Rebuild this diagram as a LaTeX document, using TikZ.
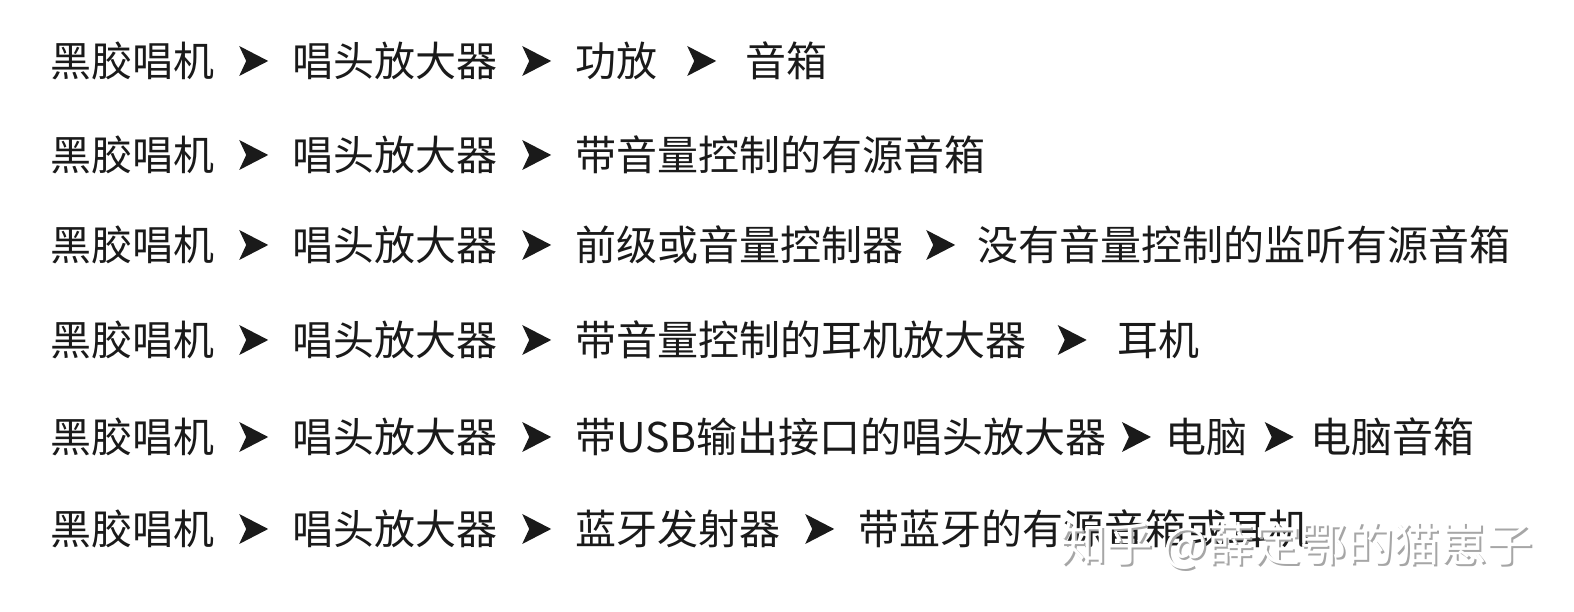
\documentclass[tikz,border=0pt]{standalone}
\usepackage{fontspec}
\setmainfont{Noto Sans CJK SC}
\usetikzlibrary{calc}
\definecolor{inkcol}{HTML}{1A1A1A}
\newcommand{\tipdraw}[2]{\fill[inkcol, shift={($(#1.east)!0.5!(#2.west)$)}] (-14,15) -- (15,0) -- (-14,-15) -- (-7,0) -- cycle}

\begin{document}
\begin{tikzpicture}[x=1pt, y=1pt,
    item/.style={anchor=west, inner sep=0pt, text=inkcol, font=\fontsize{41}{41}\selectfont},
    wmark/.style={anchor=west, inner sep=0pt, font=\fontsize{46.5}{46.5}\selectfont}]
            \useasboundingbox (0,0) rectangle (1574,612);

            \node[item] (a1) at (50,551) {黑胶唱机};
            \node[item] (b1) at (292,551) {唱头放大器};
            \node[item] (c1) at (575,551) {功放};
            \node[item] (d1) at (745,551) {音箱};
            \tipdraw{a1}{b1};
            \tipdraw{b1}{c1};
            \tipdraw{c1}{d1};

            \node[item] (a2) at (50,457) {黑胶唱机};
            \node[item] (b2) at (292,457) {唱头放大器};
            \node[item] (c2) at (575,457) {带音量控制的有源音箱};
            \tipdraw{a2}{b2};
            \tipdraw{b2}{c2};

            \node[item] (a3) at (50,367) {黑胶唱机};
            \node[item] (b3) at (292,367) {唱头放大器};
            \node[item] (c3) at (575,367) {前级或音量控制器};
            \node[item] (d3) at (977,367) {没有音量控制的监听有源音箱};
            \tipdraw{a3}{b3};
            \tipdraw{b3}{c3};
            \tipdraw{c3}{d3};

            \node[item] (a4) at (50,272) {黑胶唱机};
            \node[item] (b4) at (292,272) {唱头放大器};
            \node[item] (c4) at (575,272) {带音量控制的耳机放大器};
            \node[item] (d4) at (1117,272) {耳机};
            \tipdraw{a4}{b4};
            \tipdraw{b4}{c4};
            \tipdraw{c4}{d4};

            \node[item] (a5) at (50,175) {黑胶唱机};
            \node[item] (b5) at (292,175) {唱头放大器};
            \node[item] (c5) at (575,175) {带USB输出接口的唱头放大器};
            \node[item] (d5) at (1165,175) {电脑};
            \node[item] (e5) at (1310,175) {电脑音箱};
            \tipdraw{a5}{b5};
            \tipdraw{b5}{c5};
            \tipdraw{c5}{d5};
            \tipdraw{d5}{e5};

            \node[item] (a6) at (50,83) {黑胶唱机};
            \node[item] (b6) at (292,83) {唱头放大器};
            \node[item] (c6) at (575,83) {蓝牙发射器};
            \node[item] (d6) at (858,83) {带蓝牙的有源音箱或耳机};
            \tipdraw{a6}{b6};
            \tipdraw{b6}{c6};
            \tipdraw{c6}{d6};

            \node[wmark, text=gray!70] (wshadow) at (1062,64) {知乎 @薛定鄂的猫崽子};
            \node[wmark, text=white] (wtext) at (1060,66) {知乎 @薛定鄂的猫崽子};
        \end{tikzpicture}
\end{document}
